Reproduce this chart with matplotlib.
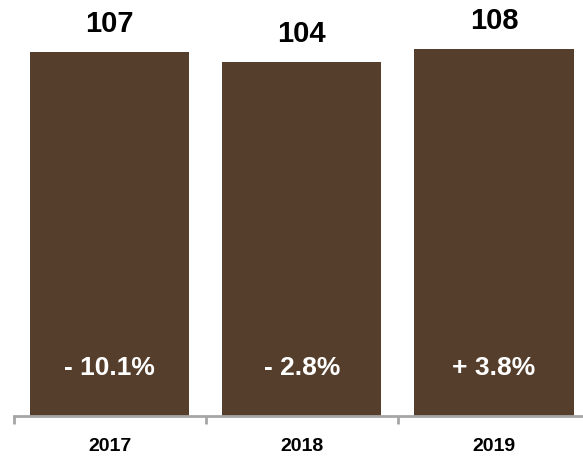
import matplotlib
matplotlib.use("Agg")
import matplotlib.pyplot as plt

years = ["2017", "2018", "2019"]
values = [107, 104, 108]
changes = ["- 10.1%", "- 2.8%", "+ 3.8%"]

BAR_COLOR = "#553e2c"
AXIS_COLOR = "#a6a6a6"
FONT = ["Liberation Sans", "DejaVu Sans"]

W, H, DPI = 583, 457, 100
fig = plt.figure(figsize=(W / DPI, H / DPI), dpi=DPI)
ax = fig.add_axes([13.5 / W, 41 / H, 576.5 / W, 416 / H])

x = list(range(len(years)))
bars = ax.bar(x, values, width=0.83, color=BAR_COLOR)

ax.set_xlim(-0.5, 2.5)
ax.set_ylim(0, 122.3)

for spine in ("top", "left", "right"):
    ax.spines[spine].set_visible(False)
ax.spines["bottom"].set_color(AXIS_COLOR)
ax.spines["bottom"].set_linewidth(2)
ax.yaxis.set_visible(False)

# category labels under the bars, separator ticks between categories
ax.set_xticks(x)
ax.set_xticklabels(years, fontfamily=FONT, fontweight="bold", fontsize=14)
ax.tick_params(axis="x", which="major", length=0, pad=16)
ax.set_xticks([-0.5, 0.5, 1.5, 2.5], minor=True)
ax.tick_params(axis="x", which="minor", length=6, width=2, color=AXIS_COLOR)

for xi, v, c in zip(x, values, changes):
    ax.annotate(str(v), (xi, v), xytext=(0, 10), textcoords="offset points",
                ha="center", va="bottom", fontfamily=FONT, fontweight="bold",
                fontsize=21, color="black")
    ax.annotate(c, (xi, 0), xytext=(0, 34.5), textcoords="offset points",
                ha="center", va="center", fontfamily=FONT, fontweight="bold",
                fontsize=19, color="white")

fig.savefig("out.png", dpi=DPI)
